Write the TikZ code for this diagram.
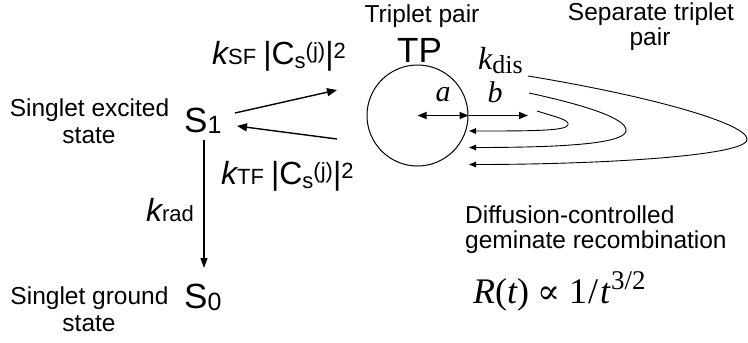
\documentclass[tikz,border=0pt]{standalone}
\usepackage{fontspec}
\setmainfont{Liberation Sans}
\newfontfamily\serifrm{Liberation Serif}
\newfontfamily\symfont{DejaVu Serif}
\usetikzlibrary{arrows.meta}
\newcommand\mysub{\fontsize{22}{22}\selectfont}
\newcommand\ratelab[1]{{\itshape k}{\mysub #1}\hspace{7pt}|C\raisebox{-4pt}{\mysub s}\raisebox{6pt}{\mysub (j)}|\raisebox{6pt}{\mysub 2}}
\begin{document}
\begin{tikzpicture}[x=1pt,y=-1pt,
  txt/.style={font=\fontsize{24.5}{26}\selectfont, inner sep=0pt, align=center},
  bigtxt/.style={font=\fontsize{35}{38}\selectfont, inner sep=0pt, anchor=base west},
  labtxt/.style={font=\fontsize{32}{34}\selectfont, inner sep=0pt},
  thick arrow/.style={line width=1.4pt, -{Triangle[length=10pt,width=8pt]}},
  loop line/.style={line width=0.9pt, -{Triangle[length=7pt,width=5.5pt]}},
  ]
\useasboundingbox (0,0) rectangle (748,343);

% texts
\node[txt, anchor=base] (tptitle) at (422,22) {Triplet pair};
\node[txt, anchor=base] (sep1) at (651,20) {Separate triplet};
\node[txt, anchor=base] (sep2) at (650,45) {pair};
\node[txt, anchor=base] (exc1) at (89.5,116) {Singlet excited};
\node[txt, anchor=base] (exc2) at (89,143) {state};
\node[txt, anchor=base] (gr1) at (89.5,304) {Singlet ground};
\node[txt, anchor=base] (gr2) at (89,331) {state};
\node[txt, anchor=base west] (dif1) at (465,223) {Diffusion-controlled};
\node[txt, anchor=base west] (dif2) at (465,248) {geminate recombination};

% states
\node[bigtxt, anchor=base] (tp) at (419.5,62) {TP};
\node[bigtxt] (s1) at (184,132) {S\raisebox{-1pt}{\fontsize{25}{25}\selectfont 1}};
\node[bigtxt] (s0) at (184,308) {S\raisebox{-2pt}{\fontsize{25}{25}\selectfont 0}};

% rate labels
\node[labtxt, anchor=base west] (ksf) at (212,64) {\ratelab{SF}};
\node[labtxt, anchor=base west] (ktf) at (221,184) {\ratelab{TF}};
\node[labtxt, anchor=base east] (krad) at (194,221) {{\itshape k}{\fontsize{22}{22}\selectfont rad}};
\node[inner sep=0pt, anchor=base west, font=\serifrm\fontsize{32}{32}\selectfont] (kdis) at (478,69) {\itshape k\upshape\raisebox{-4pt}{\fontsize{26}{26}\selectfont dis}};

% circle
\node[circle, draw, line width=1pt, minimum size=101pt, inner sep=0pt] (tpc) at (417.5,115.5) {};
\node[inner sep=0pt, anchor=base, font=\serifrm\fontsize{30}{30}\selectfont\itshape] (la) at (443,101) {a};
\node[inner sep=0pt, anchor=base, font=\serifrm\fontsize{30}{30}\selectfont\itshape] (lb) at (495,102) {b};

% formula
\node[inner sep=0pt, anchor=base west, font=\serifrm\fontsize{36}{36}\selectfont] (rt) at (473,303)
  {\itshape R\upshape(\itshape t\upshape)\hspace{8pt}{\symfont\fontsize{34}{34}\selectfont ∝}\hspace{9pt}1\hspace{1pt}/\hspace{2pt}\itshape t\upshape\hspace{1pt}\raisebox{14pt}{\fontsize{27}{27}\selectfont 3/2}};

% coordinates
\coordinate (sfA) at (235,113);
\coordinate (sfB) at (337,90);
\coordinate (tfA) at (337,139);
\coordinate (tfB) at (237,126);
\coordinate (radA) at (204,140);
\coordinate (radB) at (204,268);
\coordinate (bend) at (528,115.5);

% arrows
\draw[thick arrow] (sfA) -- (sfB);
\draw[thick arrow] (tfA) -- (tfB);
\draw[line width=1.2pt, -{Triangle[length=10pt,width=7pt]}] (radA) -- (radB);
\draw[line width=1.2pt, {Triangle[length=9pt,width=7pt]}-{Triangle[length=9pt,width=7pt]}] (tpc.center) -- (tpc.east);
\draw[line width=1.2pt, -{Triangle[length=9pt,width=7pt]}] (tpc.east) -- (bend);

% loops
\coordinate (i1) at (537,111);
\coordinate (i2) at (568,125);
\coordinate (i3) at (469,131);
\coordinate (m1) at (529,93);
\coordinate (m2) at (626,131);
\coordinate (m3) at (469,147.5);
\coordinate (o1) at (528,76);
\coordinate (o2) at (747,140);
\coordinate (o3) at (469,164.5);
\draw[loop line] (i1) .. controls (556,117) and (570,120) .. (i2) .. controls (566,131) and (530,131) .. (i3);
\draw[loop line] (m1) .. controls (580,104) and (628,118) .. (m2) .. controls (624,144) and (560,147.5) .. (m3);
\draw[loop line] (o1) .. controls (650,96) and (750,124) .. (o2) .. controls (744,156) and (600,164.5) .. (o3);
\end{tikzpicture}
\end{document}
